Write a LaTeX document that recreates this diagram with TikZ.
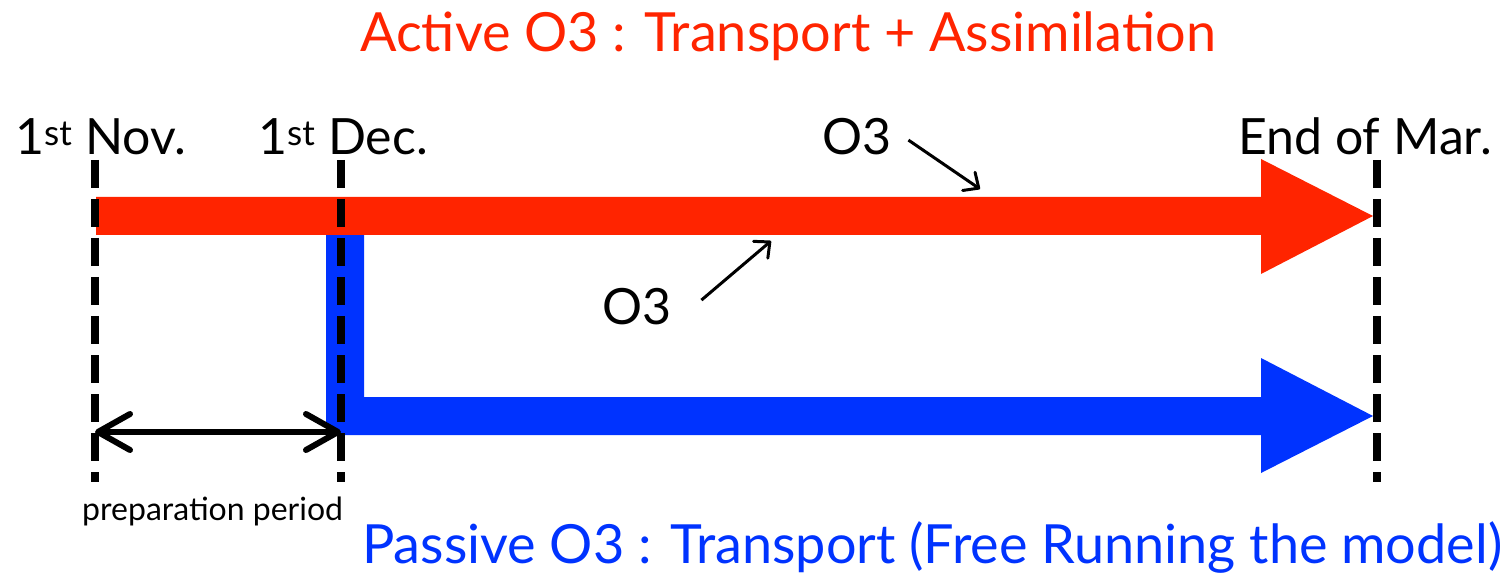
\documentclass[tikz,border=0pt]{standalone}
\usepackage{fontspec}
\setmainfont{Lato}
\usetikzlibrary{arrows.meta}
\definecolor{ared}{RGB}{255,36,0}
\definecolor{pblue}{RGB}{0,51,255}
\tikzset{
  bigtxt/.style={inner sep=0pt, anchor=base west, font=\fontsize{54}{60}\selectfont},
  lbl/.style={inner sep=0pt, anchor=base west, font=\fontsize{50}{56}\selectfont},
  small/.style={inner sep=0pt, anchor=base west, font=\fontsize{32}{36}\selectfont},
  dashline/.style={line width=8pt, dash pattern=on 28pt off 11pt},
  span/.style={line width=6pt, {Straight Barb[length=32pt,width=36pt,round]}-{Straight Barb[length=32pt,width=36pt,round]}},
  pointer/.style={line width=3pt, -{Straight Barb[length=12pt,width=22pt,round]}}
}
\begin{document}
\begin{tikzpicture}[x=1pt,y=-1pt]
\useasboundingbox (0,0) rectangle (1510,577);
% coordinates
\coordinate (novT) at (95,160); \coordinate (novB) at (95,482);
\coordinate (decT) at (341,160); \coordinate (decB) at (341,482);
\coordinate (marT) at (1377,160); \coordinate (marB) at (1377,482);
\coordinate (spanL) at (95,432); \coordinate (spanR) at (341,432);
% blue arrow
\fill[pblue] (326,225) [rounded corners=9pt] -- (326,435) [sharp corners] -- (1261,435) -- (1261,473) -- (1373,416) -- (1261,358) -- (1261,397) -- (364,397) -- (364,225) -- cycle;
% red arrow
\fill[ared] (96,197) -- (1261,197) -- (1261,159) -- (1373,216) -- (1261,274) -- (1261,235) -- (96,235) -- cycle;
% dashed lines
\draw[dashline] (novT) -- (novB);
\draw[dashline] (decT) -- (decB);
\draw[dashline] (marT) -- (marB);
% preparation span
\draw[span] (spanL) -- (spanR);
% texts
\node[bigtxt, text=ared] (title) at (360,52) {Active O3 : Transport + Assimilation};
\node[bigtxt, text=pblue] (bottom) at (362,563) {Passive O3 : Transport (Free Running the model)};
\node[lbl] (nov) at (15,155) {1\textsuperscript{st} Nov.};
\node[lbl] (dec) at (258,155) {1\textsuperscript{st} Dec.};
\node[lbl] (mar) at (1238,155) {End of Mar.};
\node[lbl] (o3a) at (822,155) {O3};
\node[lbl] (o3b) at (602,325) {O3};
\node[small] (prep) at (82,520) {preparation period};
\coordinate (pa) at (980,189);
\coordinate (pb) at (771,241);
\draw[pointer] ([xshift=17pt,yshift=-3pt]o3a.east) -- (pa);
\draw[pointer] ([xshift=30pt,yshift=7pt]o3b.east) -- (pb);
\end{tikzpicture}
\end{document}
